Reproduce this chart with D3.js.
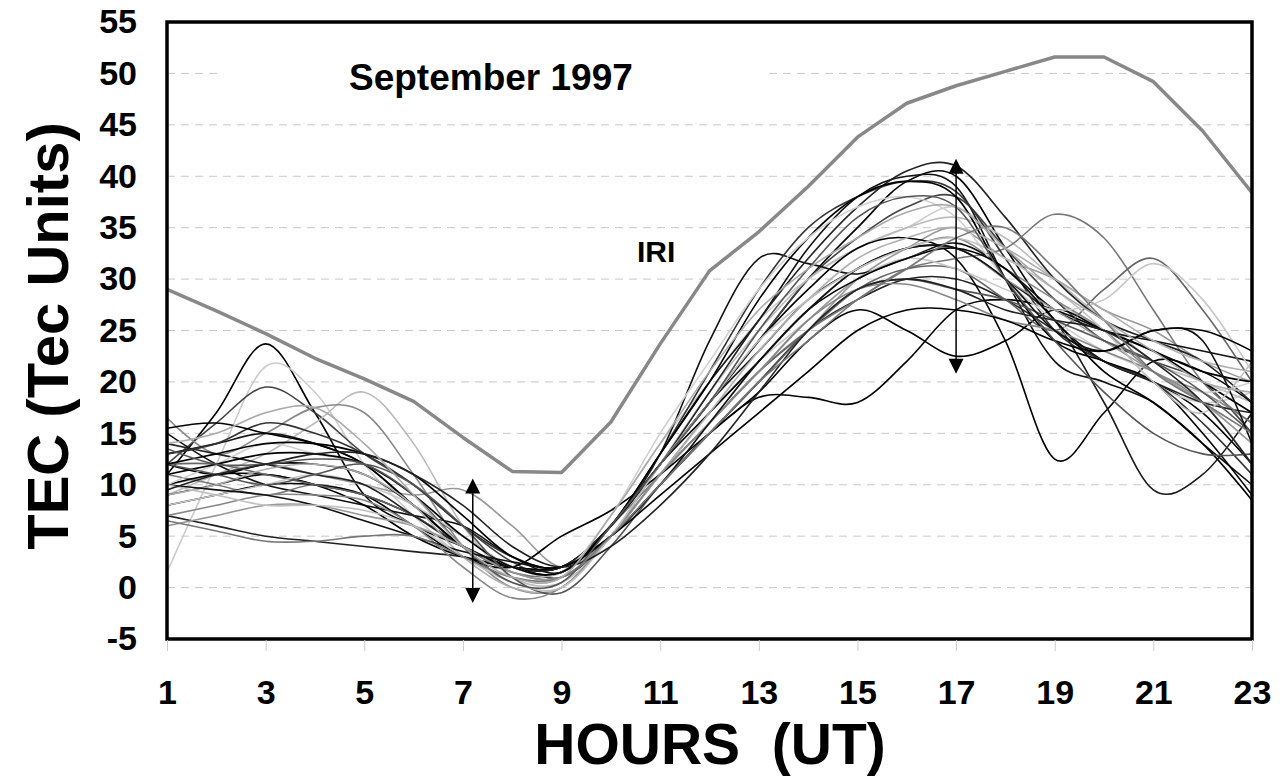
<!DOCTYPE html>
<html>
<head>
<meta charset="utf-8">
<script src="https://cdn.jsdelivr.net/npm/d3@7"></script>
<style>
  body { margin: 0; background: #fff; }
  text { font-family: "Liberation Sans", Arial, sans-serif; font-weight: bold; fill: #000; }
</style>
</head>
<body>
<div id="chart"></div>
<script>
// hours of the day (UT)
const hours = d3.range(1, 24)
const xTicks = [1, 3, 5, 7, 9, 11, 13, 15, 17, 19, 21, 23]
const yTicks = [-5, 0, 5, 10, 15, 20, 25, 30, 35, 40, 45, 50, 55]

// IRI model TEC
const iri = [29, 26.9, 24.7, 22.3, 20.3, 18.1, 14.6, 11.3, 11.2, 16.1, 23.7, 30.8, 34.6, 39, 43.8, 47.1, 48.8, 50.2, 51.6, 51.6, 49.2, 44.4, 38.4]

// observed daily TEC curves, September 1997
const days = [
    [11, 17, 23.7, 17, 9, 6, 4, 2, 1.5, 6, 12, 18, 24, 30, 35, 39.5, 40, 33, 26, 22, 20, 17, 12],
    [1.5, 12, 21.5, 19, 12, 7, 3, 1, 1, 7, 14, 20, 26, 30, 33, 35, 37, 33, 28, 25, 20, 18, 19],
    [12, 16, 19.5, 17, 13, 10, 6, 2.5, 1, 5, 12, 18, 24, 30, 34, 37, 38, 33, 28, 24, 22, 20, 15],
    [9, 11, 13, 16, 19, 14, 6, 1, 0.5, 5, 12, 19, 25, 30, 33, 35, 36, 34, 30, 26, 22, 20, 18],
    [16.5, 13, 15, 17.5, 17, 11, 4, 0, 0, 5, 11, 17, 22, 27, 31, 33, 34, 31, 28, 25, 21, 19, 16],
    [15, 12, 10, 9, 8, 7, 6, 3, 1.5, 6, 13, 20, 26, 33, 38, 40, 39, 30, 22, 20, 18, 14, 10],
    [10, 11, 12, 11, 10, 9, 9.5, 6, 2, 5, 10, 15, 20, 25, 30, 33, 35, 32, 30, 27, 25, 22, 20],
    [7, 6, 5, 4.5, 4, 3.5, 3, 2, 2, 5, 10, 15, 20, 25, 28, 30, 30, 28, 25, 22, 20, 18, 17],
    [12, 11, 12, 12, 11, 8, 4, 2, 2, 6, 12, 18, 24, 29, 33, 34, 32, 24, 12.5, 17, 22, 21, 18],
    [13, 14, 15, 14, 12, 8, 5, 2, 1.5, 6, 12, 18, 23, 28, 31, 33, 33, 30, 26, 18, 9.5, 11, 17],
    [11, 10, 9, 10, 9, 7, 4, 1.5, 1.5, 6, 11, 16, 21, 25, 28, 31, 32, 33, 36.3, 34, 27, 20, 16],
    [8, 9, 10, 10, 9, 6, 3, 2, 5, 7.5, 11, 15, 18.5, 18.5, 18, 22, 27, 28, 27, 25, 23, 20, 17],
    [9, 10, 11, 10, 9, 7, 4, 2, 2, 6, 13, 24, 32, 31.5, 30.5, 32, 33.5, 31, 27, 25, 24, 23, 22],
    [10, 11, 11, 10, 8, 5, 3, 2, 2, 5, 10, 15, 19, 24, 27, 25, 22.5, 24, 27, 25, 23, 21, 20],
    [12, 12, 11, 10, 9, 7, 4, 1.5, 1, 5, 11, 16, 21, 25, 29, 31, 31, 28, 25, 29, 32, 27, 20],
    [8, 9, 10, 11, 10, 8, 5, 2, 1.5, 6, 12, 17, 22, 26, 30, 32, 31, 29, 27, 28, 31.5, 28, 21],
    [14, 13, 12, 11, 10, 7, 4, 2, 2, 6, 12, 19, 26, 32, 37, 40.5, 41, 36, 30, 26, 24, 22, 18],
    [13, 14, 16, 15, 13, 10, 6, 3, 2, 6, 13, 21, 29, 35, 38, 39.5, 38.5, 32, 25, 22, 20, 16, 11],
    [15.5, 16, 15, 14, 12, 8, 4, 2, 1.5, 6, 13, 20, 28, 34, 38, 39.5, 38, 30, 24, 22, 20, 15, 9],
    [10, 12, 14, 13, 12, 9, 5, 2, 1.5, 7, 15, 22, 29, 34, 37, 38, 36, 30, 26, 23, 21, 19, 20],
    [6, 7, 8, 8, 7, 6, 4, 1.5, 1, 5, 11, 16, 21, 26, 30, 32, 33, 30, 27, 24, 21, 18, 14],
    [11, 12, 13, 13, 12, 9, 5, 2, 1.5, 6, 12, 17, 22, 27, 30, 32, 33, 31, 26, 21, 18, 14, 8.5],
    [9, 10, 11.5, 12, 11, 8, 3, 0, 0, 5, 11, 17, 23, 28, 32, 34, 35, 33, 30, 27, 24, 22, 21],
    [12, 11, 10, 11, 12, 10, 6, 1, -0.5, 4, 10, 15, 20, 25, 29, 30, 29, 28, 26, 24, 22, 19, 15],
    [7, 8, 9, 9, 8.5, 6, 2, -1, 0, 5, 11, 16, 21, 26, 29, 29.5, 28, 26, 25, 23, 21, 18, 12],
    [10, 9.5, 9, 8, 6.5, 5, 3.5, 2.5, 2, 5, 10, 16, 22, 27, 31, 33, 33, 30, 25, 23, 25, 24, 14],
    [10, 9, 8, 8, 7.5, 6, 3, 0.5, 0, 5, 12, 18, 24, 28, 31, 33, 34, 32, 29, 25, 20, 17, 22],
    [12, 13, 14, 14, 13, 11, 7, 3, 2, 5, 9, 13, 17, 21, 25, 27, 27, 26, 24, 23, 25, 25, 23],
    [13.5, 12, 12, 12.5, 12, 9, 4, 0.5, 0.5, 6, 12, 18, 25, 31, 36, 38, 37, 30, 24, 19, 15, 13, 13],
    [9.5, 11, 12, 13, 13, 11, 8, 4, 2, 4, 8, 13, 19, 25, 29, 30, 29, 27, 26, 25, 22, 18, 12],
    [6.5, 5.5, 4.5, 4.5, 5, 5, 3, 1, 1, 5, 10, 15, 20, 24, 28, 31, 34, 35, 31, 26, 21, 18, 15],
    [14, 15, 17, 17.5, 14, 9, 4, 1, 1, 7, 14, 21, 27, 31, 34, 36.5, 37, 33, 29, 26, 23, 20, 19]
]
const dayColors = ['#000', '#ccc', '#444', '#bbb', '#888', '#111', '#999', '#222', '#000', '#1a1a1a',
    '#777', '#000', '#111', '#000', '#666', '#c8c8c8', '#222', '#333', '#000', '#d0d0d0',
    '#999', '#000', '#b0b0b0', '#555', '#888', '#111', '#c0c0c0', '#000', '#555', '#222', '#777', '#aaa']

// spread arrows: [hour, low, high]
const arrows = [[7.2, -1.5, 10.6], [17, 20.8, 41.7]]

const width = 1280
const height = 778
const margin = ({ top: 22, right: 28, bottom: 139, left: 167 })

const x = d3.scaleLinear()
    .domain([1, 23])
    .range([margin.left, width - margin.right])

const y = d3.scaleLinear()
    .domain([-5, 55])
    .range([height - margin.bottom, margin.top])

const svg = d3.select('#chart')
    .append('svg')
    .attr('width', width)
    .attr('height', height)

svg.append('defs').append('clipPath')
    .attr('id', 'plot')
    .append('rect')
    .attr('x', margin.left)
    .attr('y', margin.top)
    .attr('width', width - margin.left - margin.right)
    .attr('height', height - margin.top - margin.bottom)

// dashed grid
svg.append('g')
    .selectAll('line')
    .data(yTicks.slice(1, -1))
    .join('line')
    .attr('x1', margin.left)
    .attr('x2', width - margin.right)
    .attr('y1', d => y(d))
    .attr('y2', d => y(d))
    .attr('stroke', '#c8c8c8')
    .attr('stroke-width', 1)
    .attr('stroke-dasharray', '8,6')

// white box behind the title hides the 50 gridline
svg.append('rect')
    .attr('x', 218)
    .attr('y', y(52))
    .attr('width', 547)
    .attr('height', y(48) - y(52))
    .attr('fill', '#fff')

const line = d3.line()
    .x((d, i) => x(hours[i]))
    .y(d => y(d))
    .curve(d3.curveCardinal.tension(0))

const plot = svg.append('g').attr('clip-path', 'url(#plot)')

plot.append('g')
    .attr('fill', 'none')
    .attr('stroke-width', 1.6)
    .selectAll('path')
    .data(days)
    .join('path')
    .attr('stroke', (d, i) => dayColors[i])
    .attr('d', line)

plot.append('path')
    .datum(iri)
    .attr('fill', 'none')
    .attr('stroke', '#888')
    .attr('stroke-width', 3.5)
    .attr('stroke-linejoin', 'round')
    .attr('d', d3.line().x((d, i) => x(hours[i])).y(d => y(d)))

// double arrows
const arrowG = svg.append('g')
arrows.forEach(([h, lo, hi]) => {
    const ax = x(h)
    arrowG.append('line')
        .attr('x1', ax).attr('x2', ax)
        .attr('y1', y(hi) + 10).attr('y2', y(lo) - 10)
        .attr('stroke', '#000')
        .attr('stroke-width', 1.5)
    arrowG.append('path')
        .attr('d', `M${ax},${y(hi)} l-7.5,15 l15,0 Z`)
    arrowG.append('path')
        .attr('d', `M${ax},${y(lo)} l-7.5,-15 l15,0 Z`)
})

// frame
svg.append('rect')
    .attr('x', margin.left)
    .attr('y', margin.top)
    .attr('width', width - margin.left - margin.right)
    .attr('height', height - margin.top - margin.bottom)
    .attr('fill', 'none')
    .attr('stroke', '#000')
    .attr('stroke-width', 3.5)

// x axis
xAxis = g => g
    .attr('transform', `translate(0,${height - margin.bottom + 1})`)
    .call(d3.axisBottom(x).tickValues(xTicks).tickSize(11).tickPadding(29).tickFormat(d3.format('d')))
    .call(g => g.select('.domain').remove())
    .call(g => g.selectAll('.tick line').attr('stroke', '#ccc'))
    .call(g => g.selectAll('.tick text')
        .attr('font-size', 34)
        .attr('font-family', '"Liberation Sans", Arial, sans-serif')
        .attr('font-weight', 'bold')
        .attr('fill', '#000'))

yAxis = g => g
    .attr('transform', `translate(${margin.left},0)`)
    .call(d3.axisLeft(y).tickValues(yTicks).tickSize(0).tickPadding(30).tickFormat(d => String(d)))
    .call(g => g.select('.domain').remove())
    .call(g => g.selectAll('.tick text')
        .attr('font-size', 34)
        .attr('font-family', '"Liberation Sans", Arial, sans-serif')
        .attr('font-weight', 'bold')
        .attr('fill', '#000'))

svg.append('g').call(xAxis)
svg.append('g').call(yAxis)

// titles and labels
svg.append('text')
    .attr('x', 349)
    .attr('y', 90)
    .attr('font-size', 37)
    .text('September 1997')

svg.append('text')
    .attr('x', 637)
    .attr('y', 262)
    .attr('font-size', 30)
    .text('IRI')

svg.append('text')
    .attr('x', 710)
    .attr('y', 764)
    .attr('text-anchor', 'middle')
    .attr('font-size', 57)
    .style('white-space', 'pre')
    .text('HOURS  (UT)')

svg.append('text')
    .attr('transform', 'translate(68,336) rotate(-90)')
    .attr('text-anchor', 'middle')
    .attr('font-size', 58)
    .text('TEC (Tec Units)')
</script>
</body>
</html>
